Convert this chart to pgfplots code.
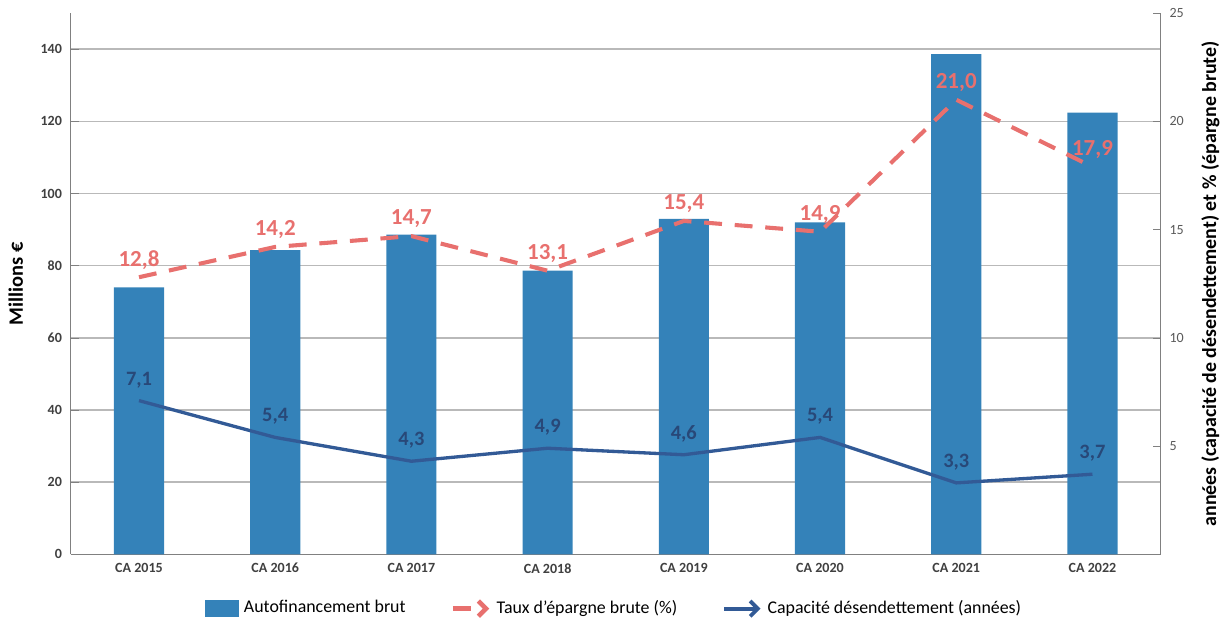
\documentclass[border=0pt]{standalone}
\usepackage{pgfplots}
\pgfplotsset{compat=1.18}
\usetikzlibrary{arrows.meta}
\usepackage{fontspec}
\setmainfont{Carlito}
\definecolor{barblue}{RGB}{52,130,185}
\definecolor{tauxred}{RGB}{232,112,110}
\definecolor{capblue}{RGB}{50,90,150}
\definecolor{gridgray}{RGB}{185,185,185}
\begin{document}
\begin{tikzpicture}
\begin{axis}[
  scale only axis, width=15.0cm, height=7.45cm,
  xmin=-0.5, xmax=7.5, ymin=0, ymax=150,
  axis y line*=left, axis x line*=bottom,
  xtick={0,...,7},
  xticklabels={CA 2015,CA 2016,CA 2017,CA 2018,CA 2019,CA 2020,CA 2021,CA 2022},
  ytick={0,20,...,140},
  ymajorgrids, grid style={gridgray, line width=0.6pt},
  tick label style={font=\fontsize{5.5}{6}\selectfont\bfseries, text=black!75},
  /pgf/number format/assume math mode=true,
  ylabel={\bfseries Millions €}, ylabel style={font=\fontsize{8}{9}\selectfont},
  axis line style={gray}, major tick length=3pt, tick style={gray},
  xtick style={draw=none},
]
\addplot[ybar, bar width=0.69cm, fill=barblue, draw=none] coordinates {
(0,74) (1,84.3) (2,88.6) (3,78.6) (4,93) (5,92) (6,138.6) (7,122.4)};
\end{axis}
\begin{axis}[
  scale only axis, width=15.0cm, height=7.45cm,
  xmin=-0.5, xmax=7.5, ymin=0, ymax=25,
  axis y line*=right, axis x line=none,
  ytick={5,10,...,25},
  tick label style={font=\fontsize{5.5}{6}\selectfont, text=black!65},
  /pgf/number format/assume math mode=true,
  ylabel={\bfseries années (capacité de désendettement) et \% (épargne brute)},
  ylabel style={font=\fontsize{7.8}{9}\selectfont},
  axis line style={gray}, tick style={gray}, major tick length=3pt,
  legend columns=3,
  legend style={at={(0.5,-0.065)}, anchor=north, draw=none, font=\fontsize{7}{9}\selectfont, /tikz/every even column/.append style={column sep=0.55cm}},
]
\addlegendimage{legend image code/.code={\fill[barblue] (0cm,-0.11cm) rectangle (0.45cm,0.11cm);}}
\addlegendentry{Autofinancement brut}
\addplot[tauxred, line width=1.6pt, dash pattern=on 7pt off 5pt,
  nodes near coords, point meta=explicit symbolic,
  legend image code/.code={\draw[tauxred, line width=1.8pt, -{Straight Barb[length=3pt]}] (0cm,0cm) -- (0.5cm,0cm);},
  every node near coord/.append style={font=\fontsize{9}{10}\selectfont\bfseries, text=tauxred, anchor=south, yshift=-1pt}]
  table[meta=lab] {
x y lab
0 12.8 {12,8}
1 14.2 {14,2}
2 14.7 {14,7}
3 13.1 {13,1}
4 15.4 {15,4}
5 14.9 {14,9}
6 21.0 {21,0}
7 17.9 {17,9}
};
\addlegendentry{Taux d'épargne brute (\%)}
\addplot[capblue, line width=1.3pt,
  nodes near coords, point meta=explicit symbolic,
  legend image code/.code={\draw[capblue, line width=1.5pt, -{Straight Barb[length=3pt]}] (0cm,0cm) -- (0.5cm,0cm);},
  every node near coord/.append style={font=\fontsize{8}{9}\selectfont\bfseries, text=capblue!80!black, anchor=south, yshift=1pt}]
  table[meta=lab] {
x y lab
0 7.1 {7,1}
1 5.4 {5,4}
2 4.3 {4,3}
3 4.9 {4,9}
4 4.6 {4,6}
5 5.4 {5,4}
6 3.3 {3,3}
7 3.7 {3,7}
};
\addlegendentry{Capacité désendettement (années)}
\end{axis}
\end{tikzpicture}
\end{document}
